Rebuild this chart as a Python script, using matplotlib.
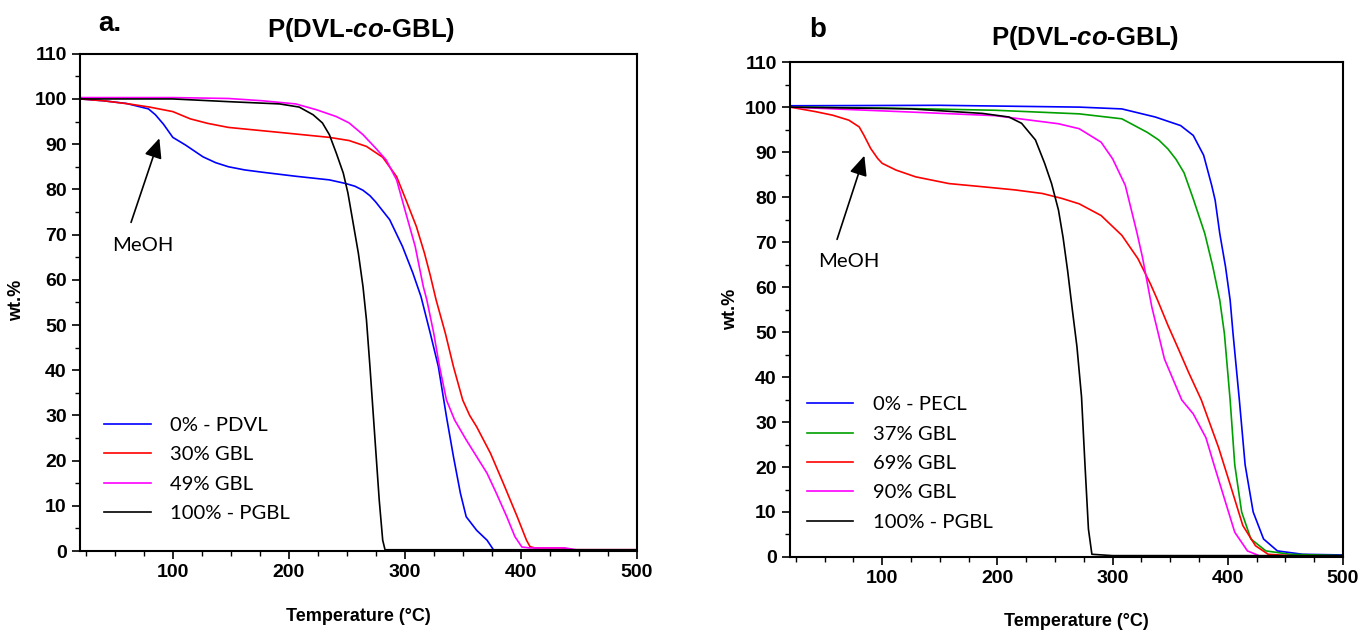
import matplotlib
matplotlib.use("Agg")
import matplotlib.pyplot as plt
from matplotlib.ticker import MultipleLocator

plt.rcParams['mathtext.fontset'] = 'custom'
plt.rcParams['mathtext.bfit'] = 'Liberation Sans:bold:italic'
plt.rcParams['mathtext.rm'] = 'Liberation Sans'

BOLD_FONT = 'Liberation Sans'
LEG_FONT = 'Lato'

# ---- panel a: P(DVL-co-GBL), temperature (°C) vs wt.% ----
a_pdvl_t = [20, 40, 60, 79, 85, 92, 100, 111, 126, 137, 148, 162, 177, 206, 235, 249, 257, 264,
            270, 275, 287, 298, 307, 314, 322, 329, 336, 342, 348, 353, 362, 371, 377, 390, 500]
a_pdvl_w = [100, 99.6, 99, 97.8, 96.5, 94.4, 91.5, 89.8, 87.2, 85.9, 85.0, 84.3, 83.8, 82.9, 82.1,
            81.3, 80.7, 79.8, 78.6, 77.2, 73.3, 67.4, 61.5, 56.3, 48.2, 40.8, 29.7, 20.9, 12.8,
            7.6, 4.6, 2.4, 0.1, 0, 0]
a_30_t = [20, 40, 62, 80, 100, 115, 130, 148, 192, 235, 252, 267, 281, 293, 301, 310, 317, 322,
          327, 335, 342, 350, 356, 362, 374, 385, 397, 405, 408, 412, 436, 445, 500]
a_30_w = [100, 99.6, 98.9, 98.2, 97.2, 95.6, 94.6, 93.7, 92.6, 91.5, 90.8, 89.5, 87.1, 82.8, 77.7,
          71.8, 65.9, 61.0, 55.6, 48.2, 40.8, 33.4, 30.0, 27.5, 21.6, 15, 7.6, 2.4, 1.0, 0.7, 0.7,
          0.3, 0.3]
a_49_t = [20, 100, 148, 177, 206, 224, 241, 252, 264, 275, 284, 293, 301, 309, 316, 319, 325, 330,
          336, 343, 353, 362, 371, 379, 388, 395, 401, 408, 438, 448, 500]
a_49_w = [100.3, 100.3, 100.1, 99.6, 98.9, 97.6, 96.1, 94.7, 92.1, 89.1, 86.5, 82.1, 74.7, 67.4,
          58.5, 55.6, 48.2, 40.8, 33.4, 29, 24.6, 20.9, 17.2, 12.8, 7.6, 3.2, 0.9, 0.7, 0.7, 0.3, 0.3]
a_pgbl_t = [20, 100, 148, 192, 209, 221, 229, 235, 241, 247, 251, 255, 260, 264, 267, 270, 274,
            278, 281, 283, 300, 500]
a_pgbl_w = [100, 100, 99.4, 98.9, 98.2, 96.5, 94.7, 92.1, 88, 83.6, 79.2, 73.3, 65.9, 58.5, 51.1,
            40.8, 26, 11.3, 2.4, 0.3, 0.3, 0.3]

# ---- panel b ----
b_pecl_t = [20, 150, 271, 308, 337, 359, 370, 379, 386, 389, 393, 398, 402, 404.5, 410, 415, 422,
            431, 443, 465, 500]
b_pecl_w = [100.3, 100.4, 100, 99.6, 97.8, 95.9, 93.7, 89.3, 82.6, 79.3, 71.9, 64.5, 57.1, 49.7,
            34.9, 20.5, 10, 4, 1.35, 0.6, 0.45]
b_37_t = [20, 100, 198, 271, 308, 330, 340, 348, 355, 362, 370, 380, 387, 393, 397, 402, 406, 412,
          420, 433, 454, 500]
b_37_w = [100, 99.8, 99.3, 98.5, 97.4, 94.4, 92.7, 90.7, 88.4, 85.4, 79.6, 71.9, 64.5, 57.1, 49.7,
          34.9, 20.5, 10, 4, 1.35, 0.6, 0.3]
b_69_t = [20, 42, 57, 71, 80, 84, 90, 96, 100, 112, 129, 158, 187, 215, 239, 256, 271, 290, 308,
          322, 333, 339, 348, 357, 366, 377, 392, 403, 413, 424, 435, 460, 500]
b_69_w = [100, 99, 98.2, 97.1, 95.6, 93.8, 90.8, 88.6, 87.5, 86, 84.5, 83, 82.3, 81.6, 80.8, 79.7,
          78.5, 75.9, 71.5, 66.3, 60.6, 57.1, 51.5, 46.3, 41.0, 34.9, 24.3, 15.3, 7, 2.5, 0.6,
          0.2, 0.2]
b_90_t = [20, 125, 198, 253, 271, 290, 300, 311, 321, 326, 334, 345, 360, 370, 381, 388, 397, 406,
          417, 428, 500]
b_90_w = [100, 98.9, 98.1, 96.3, 95.2, 92.2, 88.5, 82.6, 72.2, 66.5, 55.6, 44, 34.9, 31.8, 26.5,
          20.5, 13, 5.5, 1.35, 0.2, 0.1]
b_pgbl_t = [20, 125, 187, 210, 221, 233, 241, 247, 253, 257, 261, 265, 269, 273, 276, 279, 282,
            300, 500]
b_pgbl_w = [100, 99.6, 98.6, 97.8, 96.4, 92.7, 87.5, 83, 77.1, 71, 63.5, 55, 46.8, 35.6, 20.5,
            6.2, 0.6, 0.3, 0.3]

panel_a = [(a_pdvl_t, a_pdvl_w, '#0000FF', '0% - PDVL'),
           (a_30_t, a_30_w, '#FF0000', '30% GBL'),
           (a_49_t, a_49_w, '#FF00FF', '49% GBL'),
           (a_pgbl_t, a_pgbl_w, '#000000', '100% - PGBL')]
panel_b = [(b_pecl_t, b_pecl_w, '#0000FF', '0% - PECL'),
           (b_37_t, b_37_w, '#00A000', '37% GBL'),
           (b_69_t, b_69_w, '#FF0000', '69% GBL'),
           (b_90_t, b_90_w, '#FF00FF', '90% GBL'),
           (b_pgbl_t, b_pgbl_w, '#000000', '100% - PGBL')]

fig = plt.figure(figsize=(13.61, 6.32), dpi=100)


def draw_panel(rect, series, leg_anchor, meoh_text, meoh_tail, meoh_tip):
    ax = fig.add_axes(rect)
    for t, w, c, lab in series:
        ax.plot(t, w, color=c, lw=1.2, label=lab)
    ax.set_xlim(20, 500)
    ax.set_ylim(0, 110)
    ax.xaxis.set_major_locator(MultipleLocator(100))
    ax.xaxis.set_minor_locator(MultipleLocator(25))
    ax.yaxis.set_major_locator(MultipleLocator(10))
    ax.yaxis.set_minor_locator(MultipleLocator(5))
    ax.tick_params(which='major', direction='out', length=6, width=1.2, top=False, right=False)
    ax.tick_params(which='minor', direction='out', length=3.5, width=1.0, top=False, right=False)
    for lbl in ax.get_xticklabels() + ax.get_yticklabels():
        lbl.set_fontfamily(BOLD_FONT)
        lbl.set_fontweight('bold')
        lbl.set_fontsize(14)
    for s in ax.spines.values():
        s.set_linewidth(1.5)
    ax.legend(loc='upper left', bbox_to_anchor=leg_anchor, frameon=False,
              prop={'family': LEG_FONT, 'size': 14.6}, handlelength=2.3,
              handletextpad=0.95, labelspacing=0.6, borderpad=0, borderaxespad=0)
    ax.text(meoh_text[0], meoh_text[1], 'MeOH', family=LEG_FONT, fontsize=14.6,
            ha='center', va='center')
    ax.annotate('', xy=meoh_tip, xytext=meoh_tail,
                arrowprops=dict(arrowstyle='-|>,head_length=0.6,head_width=0.27',
                                color='black', lw=1.2, mutation_scale=20,
                                shrinkA=0, shrinkB=0))
    return ax


ax_a = draw_panel([0.0588, 0.128, 0.409, 0.787], panel_a, (0.043, 0.270),
                  (74, 67.6), (64, 72.7), (88.4, 91.3))
ax_b = draw_panel([0.5805, 0.1187, 0.4063, 0.783], panel_b, (0.030, 0.325),
                  (70.7, 65.7), (60.8, 70.6), (84.5, 89.2))

fig.text(0.0808, 0.962, 'a.', family=BOLD_FONT, fontweight='bold', fontsize=20,
         ha='center', va='center')
fig.text(0.265, 0.953, 'P(DVL-$\\bfit{co}$-GBL)', family=BOLD_FONT, fontweight='bold',
         fontsize=18.5, ha='center', va='center')
fig.text(0.601, 0.952, 'b', family=BOLD_FONT, fontweight='bold', fontsize=20,
         ha='center', va='center')
fig.text(0.797, 0.94, 'P(DVL-$\\bfit{co}$-GBL)', family=BOLD_FONT, fontweight='bold',
         fontsize=18.5, ha='center', va='center')

fig.text(0.012, 0.525, 'wt.%', family=BOLD_FONT, fontweight='bold', fontsize=13,
         rotation=90, ha='center', va='center')
fig.text(0.537, 0.51, 'wt.%', family=BOLD_FONT, fontweight='bold', fontsize=13,
         rotation=90, ha='center', va='center')
fig.text(0.263, 0.024, 'Temperature (°C)', family=BOLD_FONT, fontweight='bold', fontsize=13,
         ha='center', va='center')
fig.text(0.791, 0.017, 'Temperature (°C)', family=BOLD_FONT, fontweight='bold', fontsize=13,
         ha='center', va='center')

fig.savefig('out.png', dpi=100)
